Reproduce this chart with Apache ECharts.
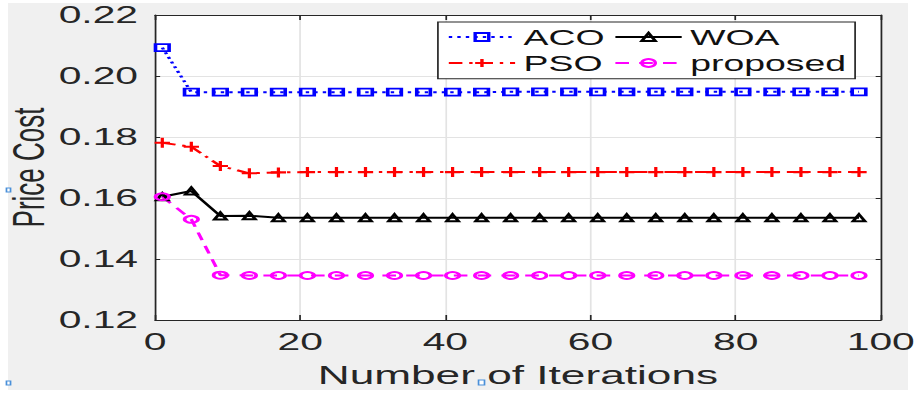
<!DOCTYPE html>
<html>
<head>
<meta charset="utf-8">
<script src="https://cdn.jsdelivr.net/npm/echarts@6/dist/echarts.min.js"></script>
<style>
  html, body { margin: 0; padding: 0; background: #ffffff; }
  #page { position: relative; width: 919px; height: 394px; overflow: hidden; background: #ffffff; }
  #figure { position: absolute; left: 8px; top: 3px; width: 900px; height: 387px; background: #f0f0f0; }
  /* the whole figure is drawn narrow and widened horizontally */
  #chart { position: absolute; left: 0; top: 0; width: 540.59px; height: 394px;
           transform: scaleX(1.7); transform-origin: 0 0; }
</style>
</head>
<body>
<div id="page">
  <div id="figure"></div>
  <div id="chart"></div>
</div>
<script>
// iteration numbers where each curve is sampled
const iterations = [1, 5, 9, 13, 17, 21, 25, 29, 33, 37, 41, 45, 49, 53, 57, 61, 65, 69, 73, 77, 81, 85, 89, 93, 97];

const acoCost = [0.2093, 0.1947, 0.1947, 0.1947, 0.1947, 0.1947, 0.1947, 0.1947, 0.1947, 0.1947,
                 0.1947, 0.1947, 0.1948, 0.1948, 0.1948, 0.1948, 0.1948, 0.1948, 0.1948, 0.1948,
                 0.1948, 0.1948, 0.1948, 0.1948, 0.1948];
const woaCost = [0.1604, 0.1623, 0.1541, 0.1542, 0.1535, 0.1535, 0.1535, 0.1535, 0.1535, 0.1535,
                 0.1535, 0.1535, 0.1535, 0.1535, 0.1535, 0.1535, 0.1535, 0.1535, 0.1535, 0.1535,
                 0.1535, 0.1535, 0.1535, 0.1535, 0.1535];
const psoCost = [0.1781, 0.1768, 0.1705, 0.1681, 0.1684, 0.1685, 0.1685, 0.1685, 0.1685, 0.1685,
                 0.1685, 0.1685, 0.1685, 0.1685, 0.1685, 0.1685, 0.1685, 0.1685, 0.1685, 0.1685,
                 0.1685, 0.1685, 0.1685, 0.1685, 0.1685];
const proposedCost = [0.1604, 0.1530, 0.1347, 0.1346, 0.1346, 0.1346, 0.1346, 0.1346, 0.1346, 0.1346,
                      0.1346, 0.1346, 0.1346, 0.1346, 0.1346, 0.1346, 0.1346, 0.1346, 0.1346, 0.1346,
                      0.1346, 0.1346, 0.1346, 0.1346, 0.1346];

const xTicks = [0, 20, 40, 60, 80, 100];
const yTicks = [0.12, 0.14, 0.16, 0.18, 0.20, 0.22];

const FONT = "'Liberation Sans', Arial, Helvetica, sans-serif";
const INK = '#262626';
const GRID = '#e3e3e3';

const pairs = (ys) => iterations.map((x, i) => [x, ys[i]]);

const PLUS = 'path://M0,5 L10,5 M5,0 L5,10';

function lineSeries(name, ys, color, dash, symbol, size) {
  return {
    name: name,
    type: 'line',
    data: pairs(ys),
    xAxisIndex: 0,
    yAxisIndex: 0,
    smooth: false,
    symbol: symbol,
    symbolSize: size,
    showAllSymbol: true,
    z: 2,
    lineStyle: { color: color, width: 2, type: dash },
    itemStyle: { color: 'rgba(0,0,0,0)', borderColor: color, borderWidth: 2 },
    emphasis: { disabled: true },
    animation: false
  };
}

const series = [
  lineSeries('ACO', acoCost, '#0000ff', [2, 3], 'rect', [8, 7]),
  lineSeries('WOA', woaCost, '#000000', 'solid', 'triangle', [7, 7]),
  lineSeries('PSO', psoCost, '#ff0000', [8, 4, 2, 4], PLUS, [9, 10]),
  lineSeries('proposed', proposedCost, '#ff00ff', [8, 6], 'circle', [8, 7])
];

function legendAt(name, left, top) {
  return {
    data: [name],
    left: left,
    top: top,
    orient: 'horizontal',
    padding: 0,
    itemGap: 0,
    itemWidth: 39,
    itemHeight: 10,
    selectedMode: false,
    z: 6,
    textStyle: { fontSize: 22, color: '#111111', fontFamily: FONT }
  };
}

const chart = echarts.init(document.getElementById('chart'), null, { renderer: 'svg' });

const tickLabel = { fontSize: 24, color: INK, fontFamily: FONT };

chart.setOption({
  animation: false,
  backgroundColor: 'transparent',
  grid: { left: 91.2, right: 22.9, top: 15, bottom: 74, show: true,
          outerBoundsMode: 'none', containLabel: false,
          backgroundColor: '#ffffff', borderWidth: 0 },
  xAxis: [
    {
      type: 'value', min: xTicks[0], max: xTicks[xTicks.length - 1], interval: 20,
      position: 'bottom',
      axisLine: { show: true, onZero: false, lineStyle: { color: INK, width: 1 } },
      axisTick: { show: true, inside: true, length: 5, lineStyle: { color: INK } },
      axisLabel: Object.assign({ margin: 10 }, tickLabel),
      splitLine: { show: true, lineStyle: { color: GRID, width: 1 } },
      name: 'Number of Iterations', nameLocation: 'middle', nameGap: 42,
      nameMoveOverlap: false,
      nameTextStyle: { fontSize: 26, color: INK, fontFamily: FONT }
    },
    {
      type: 'value', min: xTicks[0], max: xTicks[xTicks.length - 1], interval: 20,
      position: 'top',
      axisLine: { show: true, onZero: false, lineStyle: { color: INK, width: 1 } },
      axisTick: { show: true, inside: true, length: 5, lineStyle: { color: INK } },
      axisLabel: { show: false },
      splitLine: { show: false }
    }
  ],
  yAxis: [
    {
      type: 'value', min: yTicks[0], max: yTicks[yTicks.length - 1], interval: 0.02,
      position: 'left',
      axisLine: { show: true, onZero: false, lineStyle: { color: INK, width: 1 } },
      axisTick: { show: true, inside: true, length: 3, lineStyle: { color: INK } },
      axisLabel: Object.assign({ margin: 10, formatter: (v) => v.toFixed(2) }, tickLabel),
      splitLine: { show: true, lineStyle: { color: GRID, width: 1 } },
      name: 'Price Cost', nameLocation: 'middle', nameGap: 61,
      nameMoveOverlap: false,
      nameTextStyle: { fontSize: 26, color: INK, fontFamily: FONT }
    },
    {
      type: 'value', min: yTicks[0], max: yTicks[yTicks.length - 1], interval: 0.02,
      position: 'right',
      axisLine: { show: true, onZero: false, lineStyle: { color: INK, width: 1 } },
      axisTick: { show: true, inside: true, length: 3, lineStyle: { color: INK } },
      axisLabel: { show: false },
      splitLine: { show: false }
    }
  ],
  legend: [
    legendAt('ACO', 263, 26),
    legendAt('WOA', 361, 26),
    legendAt('PSO', 263, 52),
    legendAt('proposed', 361, 52)
  ],
  graphic: [
    // legend frame
    { type: 'rect', z: 3, shape: { x: 257.6, y: 22, width: 245.4, height: 56.7 },
      style: { fill: '#ffffff', stroke: INK, lineWidth: 1 } },
    // small selection handles on the figure
    { type: 'rect', z: 10, shape: { x: 3.8, y: 188, width: 2.4, height: 4 },
      style: { fill: '#ffffff', stroke: '#4a90d9', lineWidth: 1 } },
    { type: 'rect', z: 10, shape: { x: 3.8, y: 381, width: 2.4, height: 4 },
      style: { fill: '#ffffff', stroke: '#4a90d9', lineWidth: 1 } },
    { type: 'rect', z: 10, shape: { x: 281.5, y: 380, width: 3.5, height: 5 },
      style: { fill: '#ffffff', stroke: '#4a90d9', lineWidth: 1 } }
  ],
  series: series
});
</script>
</body>
</html>
